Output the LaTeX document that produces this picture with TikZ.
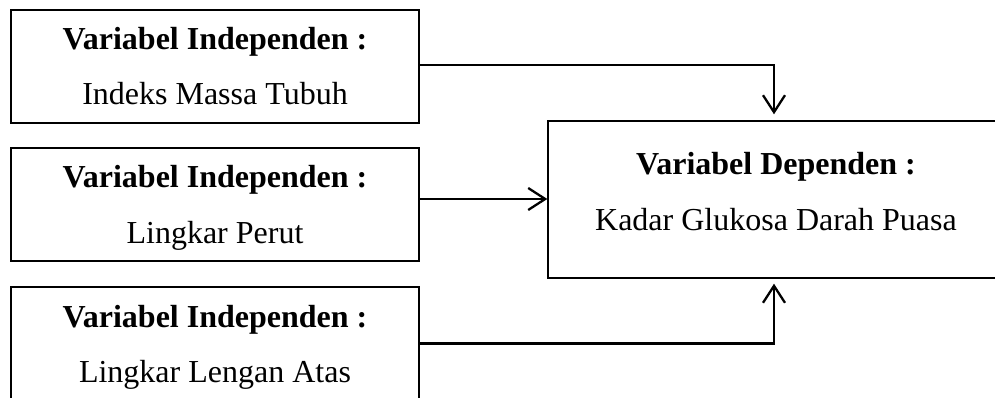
\documentclass[tikz,border=0pt]{standalone}
\usepackage{fontspec}
\setmainfont{Liberation Serif}
\usetikzlibrary{arrows.meta,calc}
\begin{document}
\begin{tikzpicture}[x=1pt,y=-1pt,
  box/.style={draw=black,line width=1.4pt,minimum width=408pt,minimum height=113pt,inner sep=0pt,rectangle},
  dbox/.style={draw=black,line width=1.4pt,minimum width=456pt,minimum height=157pt,inner sep=0pt,rectangle},
  ttl/.style={font=\fontsize{32}{36}\selectfont\bfseries,anchor=base,inner sep=0pt},
  sub/.style={font=\fontsize{32}{36}\selectfont,anchor=base,inner sep=0pt},
  conn/.style={line width=2.3pt,-{Straight Barb[length=17pt,width=22pt,line width=2.3pt]}}]
\useasboundingbox (0,0) rectangle (995,398);
\clip (0,0) rectangle (995,398);
\fill[white] (0,0) rectangle (995,398);
\node[box] (b1) at (215,66.5) {};
\node[box] (b2) at (215,204.5) {};
\node[box] (b3) at (215,343.5) {};
\node[dbox] (dep) at (776,199.5) {};
\node[ttl] (t1) at (215,50) {Variabel Independen :};
\node[sub] (s1) at (215,105) {Indeks Massa Tubuh};
\node[ttl] (t2) at (215,188) {Variabel Independen :};
\node[sub] (s2) at (215,243) {Lingkar Perut};
\node[ttl] (t3) at (215,327) {Variabel Independen :};
\node[sub] (s3) at (215,382) {Lingkar Lengan Atas};
\node[ttl] (t4) at (776,175) {Variabel Dependen :};
\node[sub] (s4) at (776,230) {Kadar Glukosa Darah Puasa};
\draw[conn] ([yshift=1.5pt]b1.east) -| ([xshift=-2pt,yshift=6pt]dep.north);
\draw[conn] ([yshift=5.5pt]b2.east) -- ([yshift=5.5pt]b2.east -| dep.west);
\draw[conn] (b3.east) -| ([xshift=-2pt,yshift=-5pt]dep.south);
\end{tikzpicture}
\end{document}
